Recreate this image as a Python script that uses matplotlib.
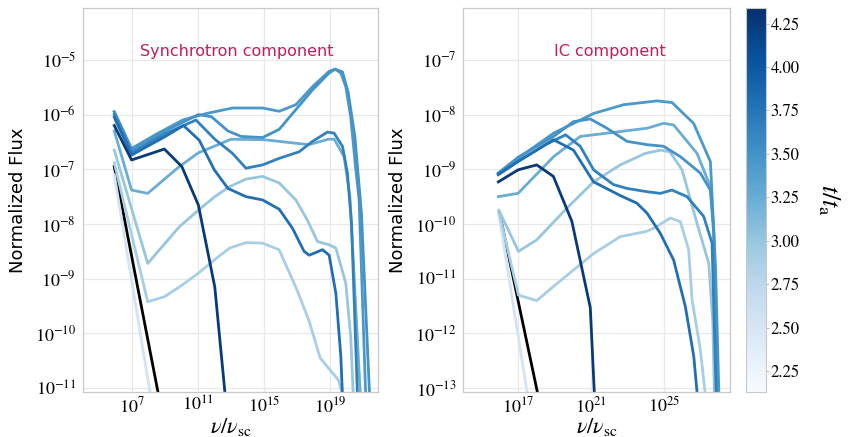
import numpy as np
import matplotlib
matplotlib.use("Agg")
import matplotlib.pyplot as plt
from matplotlib import cm, colors

plt.rcParams['font.family'] = 'STIXGeneral'
plt.rcParams['mathtext.fontset'] = 'stix'

# time of each curve (t / t_a), sets the colour
t_vals = [2.55, 2.9, 3.0, 3.25, 3.45, 3.5, 3.65, 3.8, 4.25]

# ---- synchrotron component: log10(nu/nu_sc), log10(flux) ----
syn_x = [
    [5.9, 8.3],
    [5.9, 7.93, 8.94, 10.0, 11.0, 12.0, 12.9, 13.9, 14.9, 15.9, 16.9, 17.7, 18.4, 19.5, 20.1],
    [5.9, 7.93, 9.85, 11.0, 12.0, 12.88, 13.89, 14.9, 15.91, 16.92, 17.62, 18.23, 18.94, 19.35,
     19.95, 20.25, 20.39, 20.5],
    [5.9, 6.95, 7.93, 9.85, 11.0, 13.0, 15.0, 17.7, 18.9, 19.25, 19.85, 20.2, 20.9],
    [5.9, 6.95, 8.5, 10.05, 11.5, 13.08, 14.9, 15.91, 16.92, 17.93, 18.94, 19.3, 19.65, 19.95,
     20.25, 20.52, 20.76, 21.2],
    [5.9, 6.95, 9.0, 11.0, 11.8, 12.8, 13.6, 14.9, 15.91, 16.92, 17.93, 18.94, 19.3, 19.75,
     20.1, 20.5, 20.9, 21.45],
    [5.9, 6.95, 9.0, 10.86, 12.0, 13.08, 13.89, 14.9, 15.91, 17.12, 17.93, 18.84, 19.24, 19.75,
     20.05, 20.3, 20.7],
    [5.9, 6.95, 9.0, 10.1, 11.06, 11.97, 12.8, 13.89, 14.9, 15.91, 16.72, 17.42, 17.73, 18.54,
     18.94, 19.35, 19.65, 19.8],
    [5.9, 6.95, 8.94, 10.0, 11.0, 12.0, 12.75],
]
syn_y = [
    [-7.1, -11.5],
    [-6.88, -9.42, -9.33, -9.12, -8.9, -8.65, -8.44, -8.34, -8.35, -8.47, -9.14, -9.75, -10.45, -10.85, -11.5],
    [-6.65, -8.72, -8.05, -7.75, -7.5, -7.32, -7.18, -7.13, -7.25, -7.56, -7.93, -8.32, -8.38, -8.44,
     -9.08, -10.06, -11.03, -11.5],
    [-6.3, -7.38, -7.44, -6.95, -6.7, -6.45, -6.46, -6.55, -6.45, -6.45, -6.77, -7.5, -11.5],
    [-5.95, -6.62, -6.35, -6.1, -5.98, -5.88, -5.88, -5.94, -5.82, -5.49, -5.21, -5.17, -5.24, -5.49,
     -6.04, -6.89, -7.56, -11.5],
    [-5.95, -6.65, -6.3, -6.0, -6.04, -6.3, -6.4, -6.42, -6.27, -5.91, -5.55, -5.24, -5.17, -5.22,
     -5.6, -6.4, -7.8, -11.5],
    [-6.0, -6.7, -6.35, -6.1, -6.45, -6.71, -6.98, -6.92, -6.8, -6.68, -6.49, -6.32, -6.34, -6.58,
     -7.07, -8.0, -11.5],
    [-6.05, -6.74, -6.4, -6.2, -6.47, -7.01, -7.35, -7.5, -7.56, -7.73, -8.08, -8.5, -8.57, -8.47,
     -8.57, -9.27, -10.42, -11.5],
    [-6.2, -6.83, -6.63, -6.95, -7.65, -9.15, -11.5],
]
syn_black_x = [5.9, 8.7]
syn_black_y = [-6.95, -11.3]

# ---- IC component ----
ic_x = [
    [15.95, 17.6],
    [15.95, 17.02, 18.02, 19.12, 21.13, 22.59, 23.96, 24.41, 25.33, 25.88, 26.33, 26.52, 26.97, 27.3],
    [15.95, 17.02, 18.02, 19.67, 21.13, 22.59, 23.96, 24.78, 25.3, 25.97, 26.79, 27.43, 27.65, 27.75],
    [15.92, 17.0, 18.94, 20.4, 22.59, 24.05, 24.96, 25.51, 26.79, 27.52, 27.7, 27.9],
    [15.92, 17.0, 18.94, 21.13, 22.77, 24.6, 25.42, 26.6, 27.52, 27.8, 28.0],
    [15.92, 17.0, 18.94, 20.03, 20.95, 21.86, 22.96, 24.05, 24.96, 25.88, 26.97, 27.52, 27.7, 27.95],
    [15.92, 17.0, 18.5, 19.6, 20.4, 21.13, 22.22, 22.96, 24.05, 24.78, 25.42, 26.24, 27.15, 27.61,
     27.85],
    [15.92, 17.0, 18.94, 20.03, 21.13, 22.59, 23.5, 24.05, 24.78, 25.51, 26.15, 26.61, 26.85],
    [15.92, 17.0, 18.02, 18.93, 19.94, 20.95, 21.2],
]
ic_y = [
    [-9.82, -13.3],
    [-9.78, -11.3, -11.4, -11.09, -10.54, -10.23, -10.14, -10.08, -9.89, -9.96, -10.47, -11.39, -12.3, -13.3],
    [-9.75, -10.5, -10.29, -9.71, -9.23, -8.92, -8.71, -8.65, -8.68, -9.01, -9.99, -10.72, -11.8, -13.3],
    [-9.5, -9.44, -8.77, -8.4, -8.31, -8.25, -8.16, -8.19, -8.71, -9.32, -10.05, -13.3],
    [-9.07, -8.8, -8.34, -7.98, -7.82, -7.75, -7.78, -8.16, -8.86, -10.78, -13.3],
    [-9.07, -8.78, -8.4, -8.13, -8.08, -8.25, -8.49, -8.55, -8.58, -8.77, -9.07, -9.38, -10.17, -13.3],
    [-9.08, -8.85, -8.55, -8.37, -8.58, -9.01, -9.28, -9.35, -9.41, -9.44, -9.38, -9.5, -9.86, -10.35,
     -13.3],
    [-9.1, -8.86, -8.46, -8.65, -9.23, -9.48, -9.62, -9.8, -10.17, -10.66, -11.51, -12.42, -13.3],
    [-9.23, -9.01, -8.92, -9.13, -9.95, -11.53, -13.3],
]
ic_black_x = [15.98, 18.2]
ic_black_y = [-9.79, -13.3]

t_min, t_max = 2.13, 4.34
cbar_ticks = [2.25, 2.5, 2.75, 3.0, 3.25, 3.5, 3.75, 4.0, 4.25]

cmap = plt.get_cmap('Blues')
norm = colors.Normalize(vmin=t_min, vmax=t_max)

fig = plt.figure(figsize=(8.5, 4.37), dpi=100)
ax1 = fig.add_axes([0.0976, 0.103, 0.347, 0.879])
ax2 = fig.add_axes([0.545, 0.103, 0.314, 0.879])
cax = fig.add_axes([0.878, 0.103, 0.0235, 0.879])

panels = [
    (ax1, syn_x, syn_y, syn_black_x, syn_black_y, (1e4, 10**21.9), (10**-11.07, 10**-4.05),
     [1e7, 1e11, 1e15, 1e19], np.arange(-11, -4), 'Synchrotron component', 0.522),
    (ax2, ic_x, ic_y, ic_black_x, ic_black_y, (1e14, 10**28.6), (10**-13.07, 10**-6.05),
     [1e17, 1e21, 1e25], np.arange(-13, -6), 'IC component', 0.549),
]

for ax, xs, ys, bx, by, xlim, ylim, xt, yexp, title, tx in panels:
    ax.plot(10.0 ** np.array(bx), 10.0 ** np.array(by), color='black', lw=2.0)
    for t, x, y in zip(t_vals, xs, ys):
        ax.plot(10.0 ** np.array(x), 10.0 ** np.array(y), color=cmap(norm(t)), lw=2.0)
    ax.set_xscale('log')
    ax.set_yscale('log')
    ax.set_xlim(*xlim)
    ax.set_ylim(*ylim)
    ax.set_xticks(xt)
    ax.set_yticks(10.0 ** yexp)
    ax.minorticks_off()
    ax.grid(True, color='#e8e8e8', lw=0.9)
    ax.set_axisbelow(True)
    ax.tick_params(length=0, pad=5, labelsize=13)
    ax.tick_params(axis='x', pad=3)
    for s in ax.spines.values():
        s.set_color('#c8c8c8')
        s.set_linewidth(0.9)
    ax.set_xlabel(r'$\nu/\nu_{\rm sc}$', fontsize=16, labelpad=0)
    ax.set_ylabel('Normalized Flux', family='DejaVu Sans', fontsize=13, labelpad=6)
    ax.text(tx, 0.886, title, transform=ax.transAxes, ha='center', va='center',
            color='#c51b5a', family='DejaVu Sans', fontsize=11.5)

sm = cm.ScalarMappable(norm=norm, cmap=cmap)
cb = fig.colorbar(sm, cax=cax, ticks=cbar_ticks)
cb.ax.set_yticklabels(['%.2f' % v for v in cbar_ticks])
cb.ax.tick_params(labelsize=12, length=2, color='#c8c8c8', pad=1)
cb.outline.set_edgecolor('#c8c8c8')
cb.set_label(r'$t/t_{\rm a}$', rotation=270, fontsize=19, labelpad=30)

fig.savefig('out.png', dpi=100)
